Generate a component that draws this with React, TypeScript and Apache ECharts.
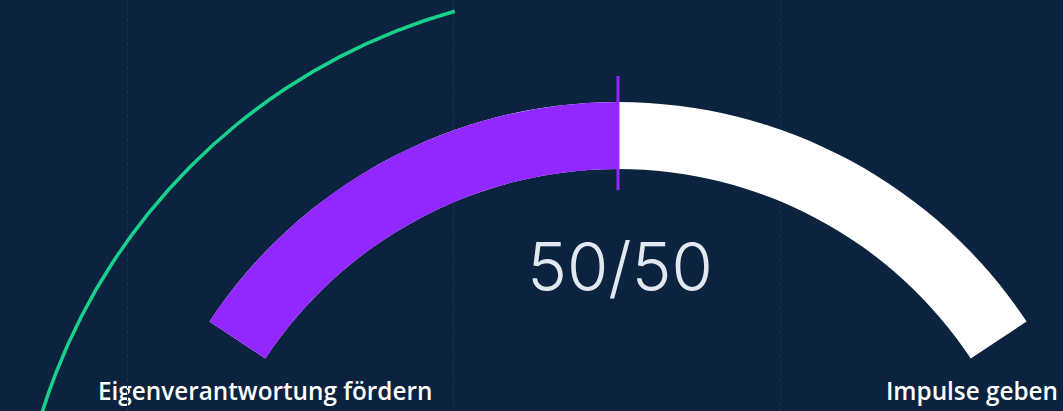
import React, { useEffect, useRef } from "react";
import * as echarts from "echarts";

const categories = ["Eigenverantwortung fördern", "Impulse geben"];
const shares = [50, 50];
const gridTicks = [0, 1, 2];

export default function App() {
  const ref = useRef<HTMLDivElement>(null);
  useEffect(() => {
    if (!ref.current) return;
    const chart = echarts.init(ref.current, undefined, { renderer: "svg" });
    const total = shares[0] + shares[1];
    const leftPct = (shares[0] / total) * 100;
    chart.setOption({
      animation: false,
      backgroundColor: "#0c2340",
      grid: { left: 127, top: 0, bottom: 0, width: 653 },
      xAxis: {
        type: "value",
        min: gridTicks[0],
        max: gridTicks[gridTicks.length - 1],
        interval: 1,
        axisLine: { show: false },
        axisTick: { show: false },
        axisLabel: { show: false },
        splitLine: { show: true, lineStyle: { type: "dashed", color: "#1a2f4d", width: 1 } },
      },
      yAxis: { type: "value", show: false },
      graphic: [
        {
          type: "text",
          left: 98,
          top: 378,
          style: {
            text: categories[0],
            fill: "#ffffff",
            font: "600 24.3px 'Open Sans'",
          },
        },
        {
          type: "text",
          right: 5,
          top: 378,
          style: {
            text: categories[1],
            fill: "#ffffff",
            font: "600 24.3px 'Open Sans'",
          },
        },
      ],
      series: [
        { type: "line", data: [], silent: true },
        {
          type: "gauge",
          center: [618, 592],
          radius: 605,
          startAngle: 200,
          endAngle: 105.7,
          min: 0,
          max: 100,
          axisLine: { lineStyle: { width: 3.5, color: [[1, "#17d18b"]] } },
          progress: { show: false },
          splitLine: { show: false },
          axisTick: { show: false },
          axisLabel: { show: false },
          pointer: { show: false },
          anchor: { show: false },
          title: { show: false },
          detail: { show: false },
          data: [{ value: 0 }],
        },
        {
          type: "gauge",
          center: [618, 592],
          radius: 490,
          startAngle: 146.5,
          endAngle: 33.5,
          min: 0,
          max: 100,
          axisLine: { lineStyle: { width: 67, color: [[1, "#ffffff"]] } },
          progress: { show: true, width: 67, itemStyle: { color: "#9228ff" } },
          splitLine: { show: false },
          axisTick: { show: false },
          axisLabel: { show: false },
          pointer: {
            show: true,
            icon: "rect",
            length: 114,
            width: 3,
            offsetCenter: [0, -402],
            itemStyle: { color: "#9228ff" },
          },
          anchor: { show: false },
          title: { show: false },
          detail: {
            offsetCenter: [2, -326],
            fontSize: 67,
            fontWeight: 300,
            fontFamily: "Inter",
            color: "#e2e8ef",
            formatter: () => `${shares[0]}/${shares[1]}`,
          },
          data: [{ value: leftPct }],
        },
      ],
    });
    return () => chart.dispose();
  }, []);
  return (
    <div
      ref={ref}
      style={{ position: "fixed", left: 0, top: 0, width: 1063, height: 411 }}
    />
  );
}
